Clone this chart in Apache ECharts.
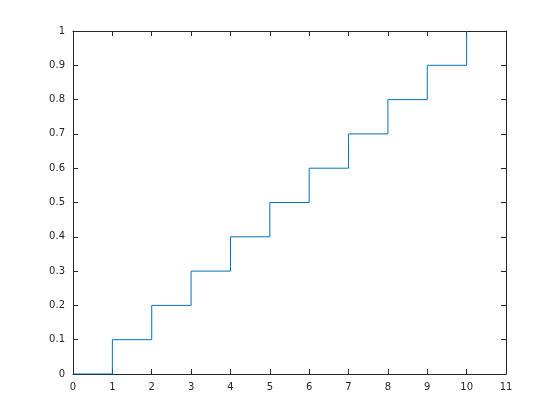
<!DOCTYPE html>
<html><head><meta charset="utf-8">
<script src="https://cdn.jsdelivr.net/npm/echarts@6/dist/echarts.min.js"></script>
<style>html,body{margin:0;padding:0;background:#fff}#c{width:560px;height:420px}</style>
</head><body><div id="c"></div>
<script>
var xValues = [0, 1, 2, 3, 4, 5, 6, 7, 8, 9, 10];
var yValues = [0, 0.1, 0.2, 0.3, 0.4, 0.5, 0.6, 0.7, 0.8, 0.9, 1.0];

var chart = echarts.init(document.getElementById('c'), null, {renderer: 'canvas'});
var axisCol = '#262626';
var font = {color: axisCol, fontSize: 10, fontFamily: 'DejaVu Sans'};
function xAx(pos, show) {
  return {type: 'value', position: pos, min: 0, max: 11, interval: 1,
    axisLine: {show: true, onZero: false, lineStyle: {color: axisCol, width: 1}},
    axisTick: {show: true, inside: true, length: 5, lineStyle: {color: axisCol}},
    axisLabel: Object.assign({show: show, margin: 8}, font),
    splitLine: {show: false}};
}
function yAx(pos, show) {
  return {type: 'value', position: pos, min: 0, max: 1, interval: 0.1,
    axisLine: {show: true, onZero: false, lineStyle: {color: axisCol, width: 1}},
    axisTick: {show: true, inside: true, length: 5, lineStyle: {color: axisCol}},
    axisLabel: Object.assign({show: show, margin: 8, formatter: function(v){return String(Math.round(v*10)/10);}}, font),
    splitLine: {show: false}};
}
chart.setOption({
  animation: false,
  grid: {left: 73, right: 54, top: 31, bottom: 46},
  xAxis: [xAx('bottom', true), xAx('top', false)],
  yAxis: [yAx('left', true), yAx('right', false)],
  series: [{
    type: 'line', step: 'end', showSymbol: false, symbol: 'none',
    lineStyle: {color: '#0072BD', width: 1},
    data: xValues.map(function(x, i){ return [x, yValues[i]]; }),
    z: 1
  }]
});
</script></body></html>
